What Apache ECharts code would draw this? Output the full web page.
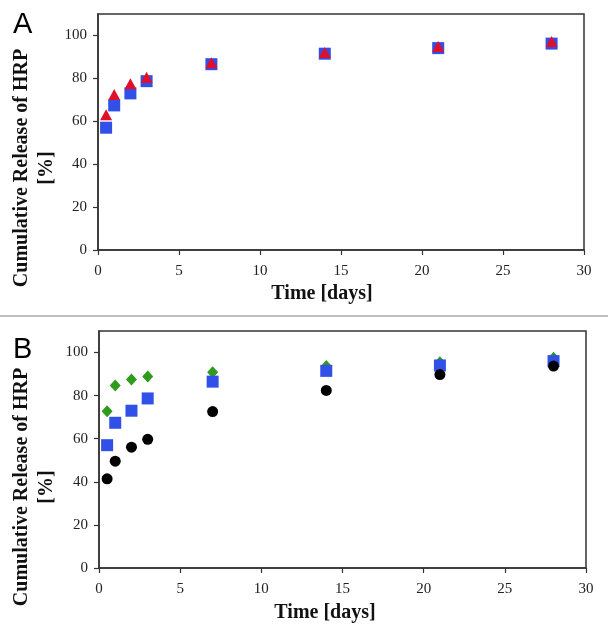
<!DOCTYPE html>
<html>
<head>
<meta charset="utf-8">
<script src="https://cdn.jsdelivr.net/npm/echarts@6/dist/echarts.min.js"></script>
<style>
  html, body { margin: 0; padding: 0; background: #fff; }
  #main { width: 608px; height: 638px; }
</style>
</head>
<body>
<div id="main"></div>
<script>
// sampling days
var days = [0.5, 1, 2, 3, 7, 14, 21, 28];

// panel A
var aSquare   = [57.0, 67.4, 73.0, 78.7, 86.6, 91.5, 94.1, 96.2];
var aTriangle = [63.0, 72.5, 77.5, 80.5, 87.3, 92.1, 94.9, 97.2];

// panel B
var bDiamond = [72.8, 84.7, 87.5, 88.9, 90.9, 93.8, 95.5, 97.6];
var bSquare  = [57.0, 67.4, 73.0, 78.7, 86.5, 91.5, 94.0, 96.0];
var bCircle  = [41.4, 49.6, 56.1, 59.7, 72.6, 82.4, 89.8, 93.7];

var xTicks = [0, 30, 5];
var yTicks = [0, 110, 20];

function pts(ys) {
  var out = [];
  for (var i = 0; i < days.length; i++) out.push([days[i], ys[i]]);
  return out;
}

var serif = '"Liberation Serif", "DejaVu Serif", serif';
var axisCol = '#333';

function makeX(idx) {
  return {
    type: 'value', gridIndex: idx,
    min: xTicks[0], max: xTicks[1], interval: xTicks[2],
    axisLine: { show: true, lineStyle: { color: axisCol, width: 1.5 } },
    axisTick: { show: true, length: 5, lineStyle: { color: axisCol, width: 1.2 } },
    axisLabel: { fontFamily: serif, fontSize: 15, color: '#222', margin: 14 },
    splitLine: { show: false }
  };
}
function makeY(idx) {
  return {
    type: 'value', gridIndex: idx,
    min: yTicks[0], max: yTicks[1], interval: yTicks[2],
    axisLine: { show: true, lineStyle: { color: axisCol, width: 1.5 } },
    axisTick: { show: true, length: 5, lineStyle: { color: axisCol, width: 1.2 } },
    axisLabel: { fontFamily: serif, fontSize: 15, color: '#222', margin: 11, showMaxLabel: false },
    splitLine: { show: false }
  };
}

var titleFont = 'bold 20px ' + serif;

var chart = echarts.init(document.getElementById('main'));
var option = {
  backgroundColor: '#fff',
  animation: false,
  grid: [
    { left: 98, top: 14, width: 486, height: 236, show: true, borderColor: axisCol, borderWidth: 1.5 },
    { left: 99, top: 331, width: 487, height: 237, show: true, borderColor: axisCol, borderWidth: 1.5 }
  ],
  xAxis: [makeX(0), makeX(1)],
  yAxis: [makeY(0), makeY(1)],
  graphic: [
    { type: 'line', shape: { x1: 0, y1: 316, x2: 608, y2: 316 }, style: { stroke: '#aaa', lineWidth: 1.5 } },
    { type: 'text', x: 13, y: 10, style: { text: 'A', font: '29px "Liberation Sans", Arial, sans-serif', fill: '#000' } },
    { type: 'text', x: 13, y: 335, style: { text: 'B', font: '29px "Liberation Sans", Arial, sans-serif', fill: '#000' } },
    { type: 'text', x: 322, y: 294, style: { text: 'Time [days]', font: titleFont, fill: '#111', align: 'center', verticalAlign: 'middle' } },
    { type: 'text', x: 325, y: 613, style: { text: 'Time [days]', font: titleFont, fill: '#111', align: 'center', verticalAlign: 'middle' } },
    { type: 'text', x: 22, y: 168, rotation: Math.PI / 2, style: { text: 'Cumulative Release of HRP', font: titleFont, fill: '#111', align: 'center', verticalAlign: 'middle' } },
    { type: 'text', x: 47, y: 168, rotation: Math.PI / 2, style: { text: '[%]', font: titleFont, fill: '#111', align: 'center', verticalAlign: 'middle' } },
    { type: 'text', x: 22, y: 487, rotation: Math.PI / 2, style: { text: 'Cumulative Release of HRP', font: titleFont, fill: '#111', align: 'center', verticalAlign: 'middle' } },
    { type: 'text', x: 47, y: 487, rotation: Math.PI / 2, style: { text: '[%]', font: titleFont, fill: '#111', align: 'center', verticalAlign: 'middle' } }
  ],
  series: [
    { type: 'scatter', xAxisIndex: 0, yAxisIndex: 0, symbol: 'rect', symbolSize: 12,
      itemStyle: { color: '#3050e8', opacity: 1 }, data: pts(aSquare) },
    { type: 'scatter', xAxisIndex: 0, yAxisIndex: 0, symbol: 'triangle', symbolSize: [12, 11],
      itemStyle: { color: '#e0102a', opacity: 1 }, data: pts(aTriangle) },
    { type: 'scatter', xAxisIndex: 1, yAxisIndex: 1, symbol: 'diamond', symbolSize: [11, 12],
      itemStyle: { color: '#2f9a1c', opacity: 1 }, data: pts(bDiamond) },
    { type: 'scatter', xAxisIndex: 1, yAxisIndex: 1, symbol: 'rect', symbolSize: 12,
      itemStyle: { color: '#3050e8', opacity: 1 }, data: pts(bSquare) },
    { type: 'scatter', xAxisIndex: 1, yAxisIndex: 1, symbol: 'circle', symbolSize: 11,
      itemStyle: { color: '#000', opacity: 1 }, data: pts(bCircle) }
  ]
};
chart.setOption(option);
</script>
</body>
</html>
